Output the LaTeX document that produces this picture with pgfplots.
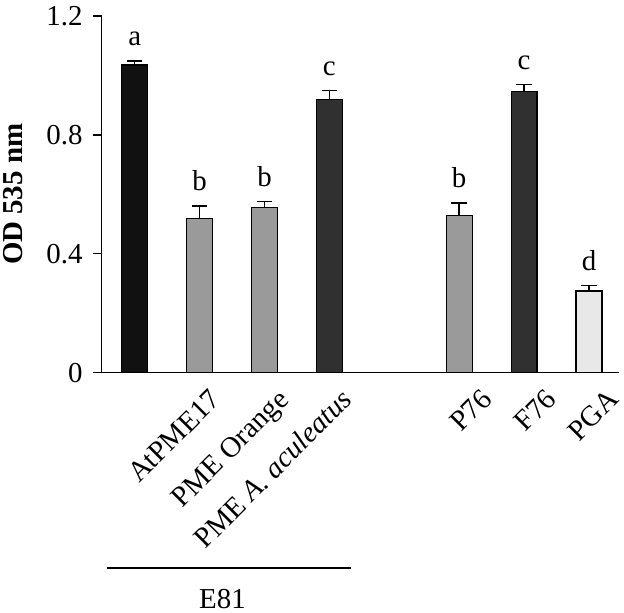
\documentclass[border=0pt]{standalone}
\usepackage{fontspec}
\setmainfont{Liberation Serif}
\usepackage{pgfplots}
\pgfplotsset{compat=1.18}
\definecolor{barK}{HTML}{111111}
\definecolor{barG}{HTML}{9A9A9A}
\definecolor{barD}{HTML}{303030}
\definecolor{barL}{HTML}{E8E8E8}
\pgfplotsset{
  mybar/.style={ybar, bar width=0.4, draw=black, line width=1.2bp, fill=#1,
    error bars/.cd, y dir=plus, y explicit,
    error bar style={line width=1.4bp, black},
    error mark options={rotate=90, line width=1.4bp, black, mark size=7.8bp}}
}
\begin{document}
\fontsize{29}{34}\selectfont
\begin{tikzpicture}[every node/.append style={font=\fontsize{29}{34}\selectfont}]
\useasboundingbox (0,0) rectangle (624bp,-613bp);
\begin{axis}[
  at={(101.7bp,-372.7bp)}, anchor=south west,
  scale only axis, width=517.6bp, height=356.7bp,
  xmin=-0.508, xmax=7.467, ymin=0, ymax=1.2,
  axis lines*=left,
  axis line style={line width=1.3bp, black},
  ytick={0,0.4,0.8,1.2}, yticklabels={0,0.4,0.8,1.2},
  tick align=outside, major tick length=9bp,
  tick style={line width=1.3bp, black},
  xtick={1.05,2.10,3.07,5.23,6.22,7.19},
  xticklabels={AtPME17, PME Orange, PME \textit{A. aculeatus}, P76, F76, PGA},
  x tick style={draw=none},
  xticklabel style={rotate=45, anchor=north east, inner sep=0pt, yshift=-8bp},
  yticklabel style={inner sep=0pt, xshift=-10bp},
  ylabel={\bfseries OD 535 nm},
  every axis y label/.style={at={(axis description cs:-0.1714,0.5)}, rotate=90, anchor=center},
  clip=false,
]
\addplot[mybar=barK] coordinates {(0,1.035) +- (0,0.014)};
\addplot[mybar=barG] coordinates {(1,0.519) +- (0,0.042)};
\addplot[mybar=barG] coordinates {(2,0.557) +- (0,0.019)};
\addplot[mybar=barD] coordinates {(3,0.918) +- (0,0.031)};
\addplot[mybar=barG] coordinates {(5,0.529) +- (0,0.042)};
\addplot[mybar=barD] coordinates {(6,0.946) +- (0,0.023)};
\addplot[mybar=barL] coordinates {(7,0.275) +- (0,0.018)};
\addplot[draw=none, mark=none, nodes near coords, point meta=explicit symbolic,
  nodes near coords style={anchor=base, yshift=15bp, inner sep=0pt, black}]
  coordinates {(0,1.049)[a] (1,0.561)[b] (2,0.576)[b] (3,0.949)[c] (5,0.571)[b] (6,0.969)[c] (7,0.293)[d]};
\end{axis}
\draw[line width=1.8bp] (107bp,-567.7bp) -- (351bp,-567.7bp);
\node[anchor=base, inner sep=0pt] at (222.5bp,-608bp) {E81};
\end{tikzpicture}
\end{document}
